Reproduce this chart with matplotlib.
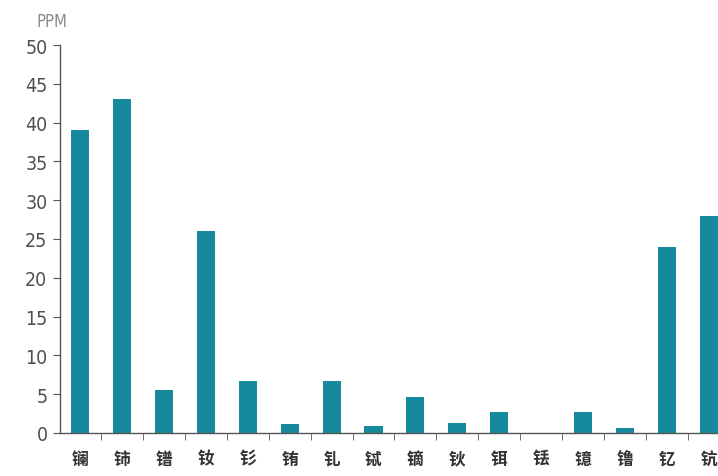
import matplotlib
matplotlib.use("Agg")
import matplotlib.pyplot as plt
import numpy as np

# 稀土元素含量 (PPM)
elements = ["镧", "铈", "镨", "钕", "钐", "铕", "钆", "铽",
            "镝", "钬", "铒", "铥", "镱", "镥", "钇", "钪"]
ppm = [39, 43, 5.5, 26, 6.7, 1.2, 6.7, 0.9,
       4.7, 1.3, 2.7, 0, 2.7, 0.6, 24, 28]
yticks = [0, 5, 10, 15, 20, 25, 30, 35, 40, 45, 50]

BAR_COLOR = "#17899c"
TEXT_COLOR = "#505050"
AXIS_COLOR = "#555555"

cjk_font = ["Noto Sans CJK SC", "DejaVu Sans"]

fig = plt.figure(figsize=(7.18, 4.77), dpi=100)
ax = fig.add_axes([60 / 718, 1 - 434 / 477, 1 - 60 / 718, (434 - 46) / 477])

x = np.arange(len(elements))
ax.bar(x, ppm, width=0.43, color=BAR_COLOR, zorder=2)

ax.set_yticks(yticks)
ax.set_yticklabels([str(v) for v in yticks], family="DejaVu Sans",
                   stretch="condensed", fontsize=14, color=TEXT_COLOR)

# 类别标签放在柱子下方，刻度线放在类别之间
ax.set_xticks(x)
ax.set_xticklabels(elements, family=cjk_font, fontsize=12,
                   color="#333333", fontweight="bold")
ax.tick_params(axis="x", which="major", length=0, pad=12)
ax.set_xticks(np.arange(len(elements)) + 0.5, minor=True)
ax.tick_params(axis="x", which="minor", length=5, color=AXIS_COLOR, direction="out")
ax.tick_params(axis="y", length=5, color=AXIS_COLOR, direction="out", pad=4)

# 右侧截断在最后一根柱子之后
ax.set_ylim(0, 50)
ax.set_xlim(-0.48, 15.22)

for side in ["top", "right"]:
    ax.spines[side].set_visible(False)
for side in ["left", "bottom"]:
    ax.spines[side].set_color(AXIS_COLOR)
    ax.spines[side].set_linewidth(1.0)

fig.text(36 / 718, 1 - 22 / 477, "PPM", family="DejaVu Sans", stretch="condensed",
         fontsize=12, color="#8a8a8a", va="center", ha="left")

fig.savefig("out.png", dpi=100, facecolor="white")
